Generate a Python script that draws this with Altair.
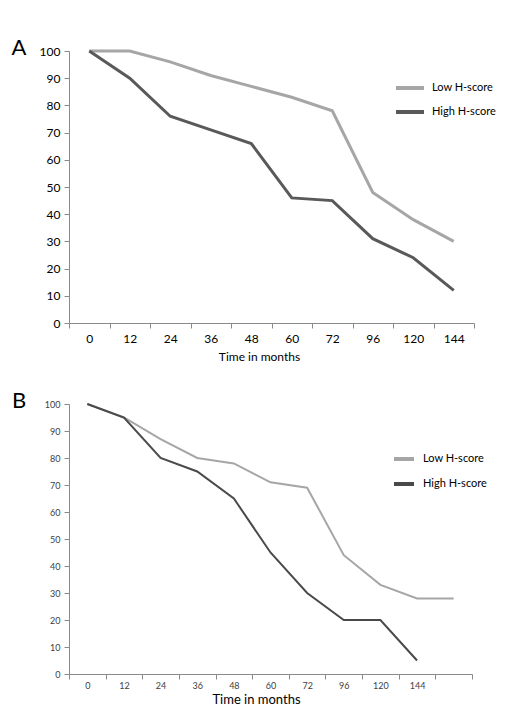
import altair as alt
import pandas as pd

months_a = ["0", "12", "24", "36", "48", "60", "72", "96", "120", "144"]
low_a = [100, 100, 96, 91, 87, 83, 78, 48, 38, 30]
high_a = [100, 90, 76, 71, 66, 46, 45, 31, 24, 12]

months_b = ["0", "12", "24", "36", "48", "60", "72", "96", "120", "144", "168"]
low_b = [100, 95, 87, 80, 78, 71, 69, 44, 33, 28, 28]
high_b = [100, 95, 80, 75, 65, 45, 30, 20, 20, 5]

series = ["Low H-score", "High H-score"]
y_ticks = [0, 10, 20, 30, 40, 50, 60, 70, 80, 90, 100]
FONT = "Lato"


def make_df(months, low, high):
    rows = []
    for m, v in zip(months, low):
        rows.append({"month": m, "value": v, "series": series[0]})
    for m, v in zip(months, high):
        rows.append({"month": m, "value": v, "series": series[1]})
    return pd.DataFrame(rows)


def panel(months, low, high, letter, w, h, sw, colors, lab_size, lab_color,
          title_size, leg_x, leg_y, sym_w, leg_label_size, row_pad, lab_off,
          label_expr, lab_pad, title_dy, title_x):
    df = make_df(months, low, high)
    xaxis = alt.Axis(
        title="Time in months", labelAngle=0, tickBand="extent",
        labelFontSize=lab_size, labelColor=lab_color, labelFont=FONT,
        titleFont=FONT, titleFontSize=title_size, titleFontWeight="normal",
        titleColor="#000000", domainColor="#8a8a8a", tickColor="#8a8a8a",
        tickSize=5, labelPadding=lab_pad, titlePadding=title_dy,
        titleX=title_x, labelExpr=label_expr,
    )
    yaxis = alt.Axis(
        title=None, values=y_ticks, grid=False, labelFontSize=lab_size,
        labelColor=lab_color, labelFont=FONT, domainColor="#8a8a8a",
        tickColor="#8a8a8a", tickSize=5, labelPadding=4,
    )
    line = alt.Chart(df).mark_line(strokeWidth=sw).encode(
        x=alt.X("month:N", sort=months, bandPosition=0.5,
                scale=alt.Scale(type="band", domain=months,
                                paddingInner=0, paddingOuter=0),
                axis=xaxis),
        y=alt.Y("value:Q", scale=alt.Scale(domain=[0, 100], nice=False),
                axis=yaxis),
        color=alt.Color(
            "series:N", sort=series,
            scale=alt.Scale(domain=series, range=colors),
            legend=alt.Legend(
                title=None, orient="none", legendX=leg_x, legendY=leg_y,
                symbolType="stroke", symbolSize=sym_w * sym_w,
                symbolStrokeWidth=4, labelFont=FONT,
                labelFontSize=leg_label_size, labelColor="#000000",
                rowPadding=row_pad, labelOffset=lab_off, padding=0,
            ),
        ),
    )
    lt = alt.Chart(pd.DataFrame({"t": [letter]})).mark_text(
        fontSize=22, font=FONT, align="center", baseline="middle",
        color="#000000",
    ).encode(text="t:N", x=alt.value(-50), y=alt.value(-3))
    return alt.layer(line, lt).properties(width=w, height=h).resolve_scale(
        color="independent")


pa = panel(months_a, low_a, high_a, "A", 405, 272, 3,
           ["#a6a6a6", "#595959"], 12, "#000000", 12,
           325, 21, 28, 11, -8, 6,
           "datum.label", 5, 7, 190)
pb = panel(months_b, low_b, high_b, "B", 403, 270, 2,
           ["#a6a6a6", "#4a4a4a"], 9, "#404040", 13,
           323, 43, 20, 11, 5, 7,
           "datum.value == '168' ? '' : datum.label", 2, 3, 187)

chart = alt.vconcat(pa, pb, spacing=28).resolve_scale(
    color="independent", x="independent", y="independent"
).resolve_legend(color="independent").configure_view(stroke=None).properties(
    padding={"left": 3, "top": 29, "right": 0, "bottom": 0}
)

chart.save("out.html", embed_options={"renderer": "svg", "actions": False})
